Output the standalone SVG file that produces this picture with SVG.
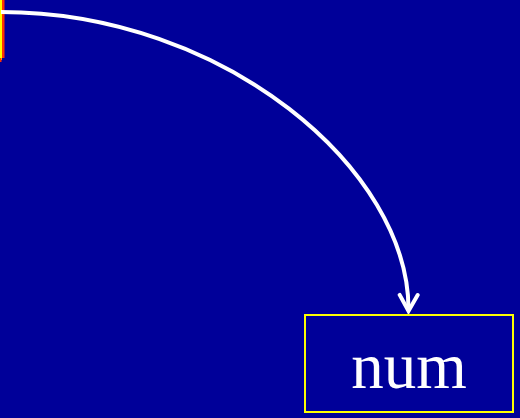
<svg xmlns="http://www.w3.org/2000/svg" width="520" height="418" viewBox="0 0 520 418">
<style>
.bg{fill:#000099}
.node{fill:#000099;stroke:#ffff00;stroke-width:2}
.lbl{font-family:"Liberation Serif","Times New Roman",serif;font-size:65px;fill:#ffffff;text-anchor:middle}
.edge{fill:none;stroke:#ffffff;stroke-width:4}
</style>
<defs>
<marker id="arr" viewBox="0 0 24 24" refX="21" refY="12" markerWidth="24" markerHeight="24" markerUnits="userSpaceOnUse" orient="auto">
<polyline points="5,3 21,12 5,21" fill="none" stroke="#ffffff" stroke-width="4" stroke-linecap="round" stroke-linejoin="miter"/>
</marker>
</defs>
<rect class="bg" x="0" y="0" width="520" height="418"/>
<g id="node-left">
<rect x="0" y="0" width="4.5" height="58" fill="#ff3300"/>
<rect x="0" y="0" width="2" height="60" fill="#ffff00"/>
<rect x="0" y="58" width="1.5" height="4" fill="#ff3300"/>
</g>
<g id="node-num">
<rect class="node" x="305" y="315" width="208" height="97"/>
<text class="lbl" x="409" y="388">num</text>
</g>
<g id="connectors">
<path class="edge" d="M1,12 C224,12 410,170 408.5,311" marker-end="url(#arr)"/>
</g>
</svg>
